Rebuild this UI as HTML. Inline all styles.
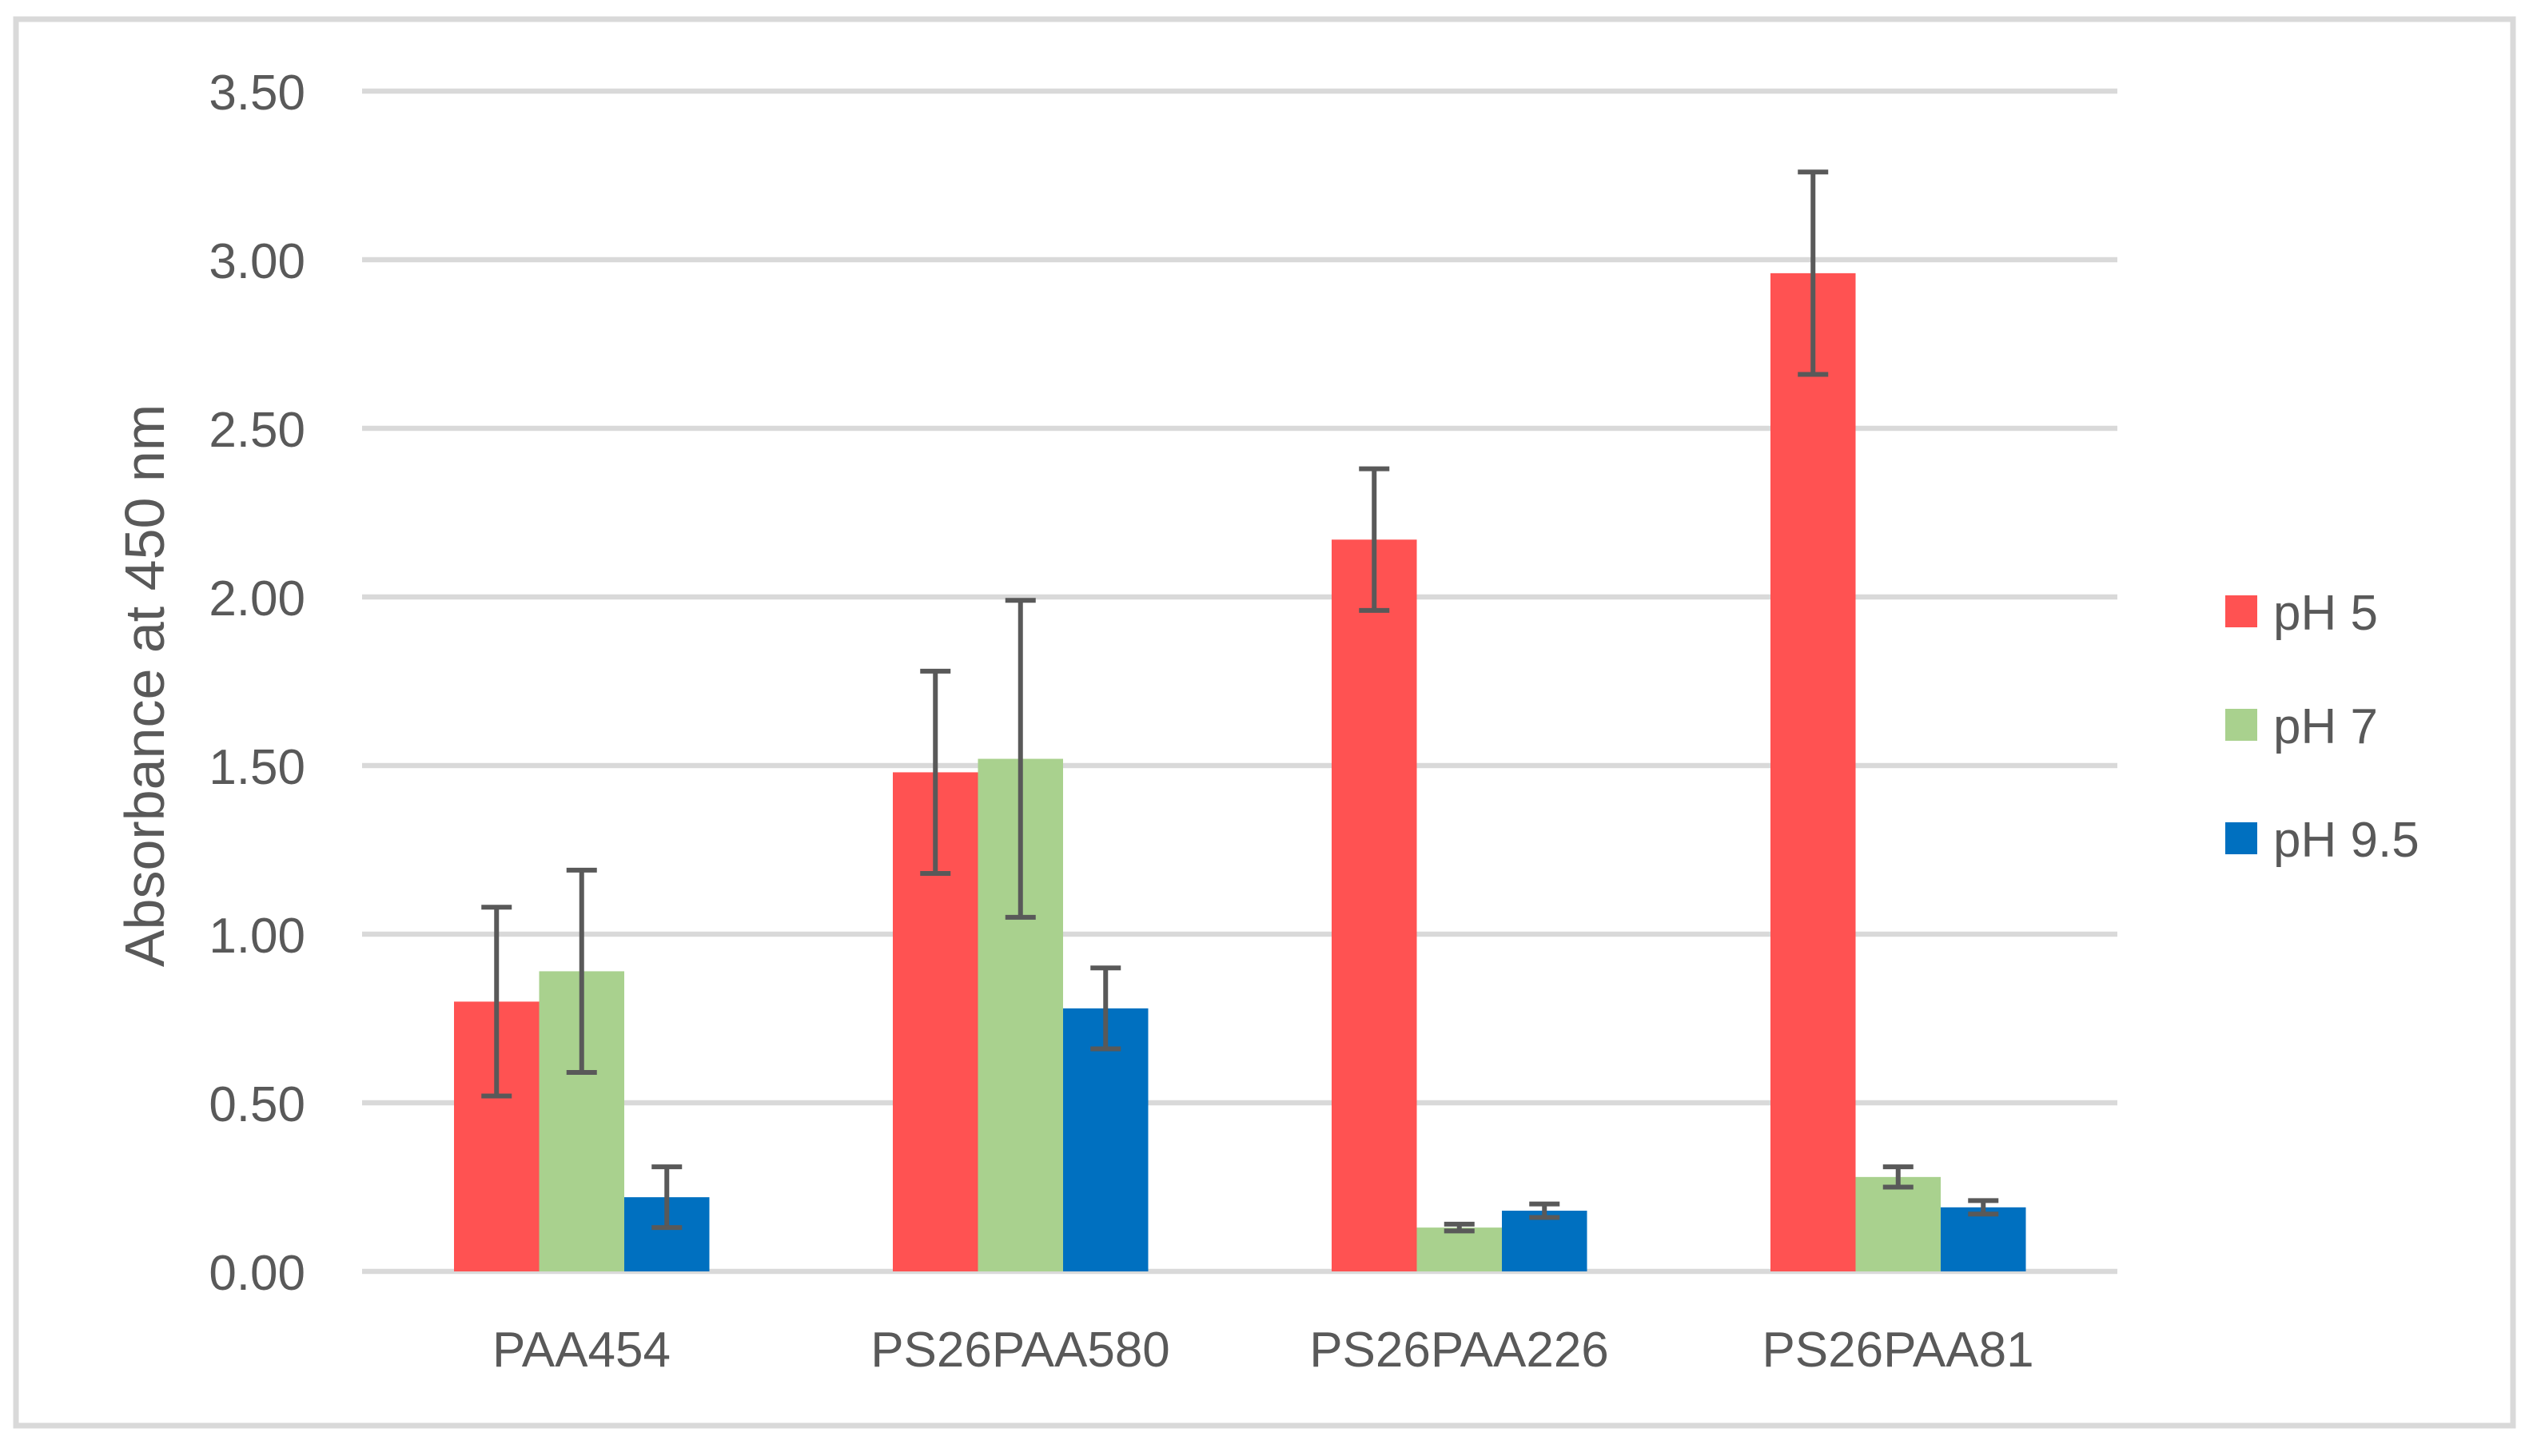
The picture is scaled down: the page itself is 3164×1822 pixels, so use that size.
<!DOCTYPE html>
<html><head><meta charset="utf-8"><style>
html,body{margin:0;padding:0;background:#fff}
svg{display:block}
text{font-family:"Liberation Sans",sans-serif;fill:#595959}
</style></head><body>
<svg id="chart" width="3164" height="1822" viewBox="0 0 3164 1822" xmlns="http://www.w3.org/2000/svg">
<rect x="20" y="24" width="3124" height="1760" fill="#fff" stroke="#d9d9d9" stroke-width="7"/>
<g id="grid"></g><g id="bars"></g><g id="errs"></g><g id="labels"></g>
<text transform="translate(205,858) rotate(-90)" text-anchor="middle" font-size="70">Absorbance at 450 nm</text>
<g id="legend"></g>
</svg>
<script>
const categories=["PAA454","PS26PAA580","PS26PAA226","PS26PAA81"];
const seriesNames=["pH 5","pH 7","pH 9.5"];
const ph5=[0.80,1.48,2.17,2.96];
const ph7=[0.89,1.52,0.13,0.28];
const ph95=[0.22,0.78,0.18,0.19];
const ph5Err=[0.28,0.30,0.21,0.30];
const ph7Err=[0.30,0.47,0.01,0.03];
const ph95Err=[0.09,0.12,0.02,0.02];
const yTicks=[0,0.5,1,1.5,2,2.5,3,3.5];
const colors=["#ff5252","#a9d18e","#0070c0"];
const NS="http://www.w3.org/2000/svg";
const X0=453,CW=549,Y0=1591,PPU=422,BW=106.5,GAP=115;
const y=v=>Y0-v*PPU;
const x=(c,s)=>X0+c*CW+GAP+s*BW;
function mk(t,a,p){const e=document.createElementNS(NS,t);for(const k in a)e.setAttribute(k,a[k]);p.appendChild(e);return e;}
const grid=document.getElementById('grid');
yTicks.forEach(t=>{
 const l=mk('line',{x1:X0,x2:X0+4*CW,y1:y(t),y2:y(t),stroke:'#d9d9d9','stroke-width':6.5},grid);
 
 
 const tx=mk('text',{x:382,y:y(t)+23,'text-anchor':'end','font-size':62},grid);
 tx.textContent=t.toFixed(2);
 
 
});
const series=[ph5,ph7,ph95],errs=[ph5Err,ph7Err,ph95Err];
const bars=document.getElementById('bars'),eg=document.getElementById('errs'),lg=document.getElementById('labels');
categories.forEach((c,ci)=>{
 series.forEach((s,si)=>{
  const v=s[ci];
  const r=mk('rect',{x:x(ci,si),y:y(v),width:BW,height:v*PPU,fill:colors[si]},bars);
  
  
  const cx=x(ci,si)+BW/2,e=errs[si][ci];
  const g=mk('g',{stroke:'#595959','stroke-width':6},eg);
  
  
  mk('line',{x1:cx,x2:cx,y1:y(v+e),y2:y(v-e)},g);
  mk('line',{x1:cx-19,x2:cx+19,y1:y(v+e),y2:y(v+e)},g);
  mk('line',{x1:cx-19,x2:cx+19,y1:y(v-e),y2:y(v-e)},g);
 });
 const t=mk('text',{x:X0+ci*CW+CW/2,y:1710,'text-anchor':'middle','font-size':62},lg);
 t.textContent=c;
 
 
});
const leg=document.getElementById('legend');
seriesNames.forEach((n,i)=>{
 const g=mk('g',{},leg);
 
 
 const cy=765+i*142;
 mk('rect',{x:2784,y:cy-20,width:40,height:40,fill:colors[i]},g);
 const t=mk('text',{x:2844,y:cy+23,'font-size':62},g);
 t.textContent=n;
});
</script>
</body></html>
